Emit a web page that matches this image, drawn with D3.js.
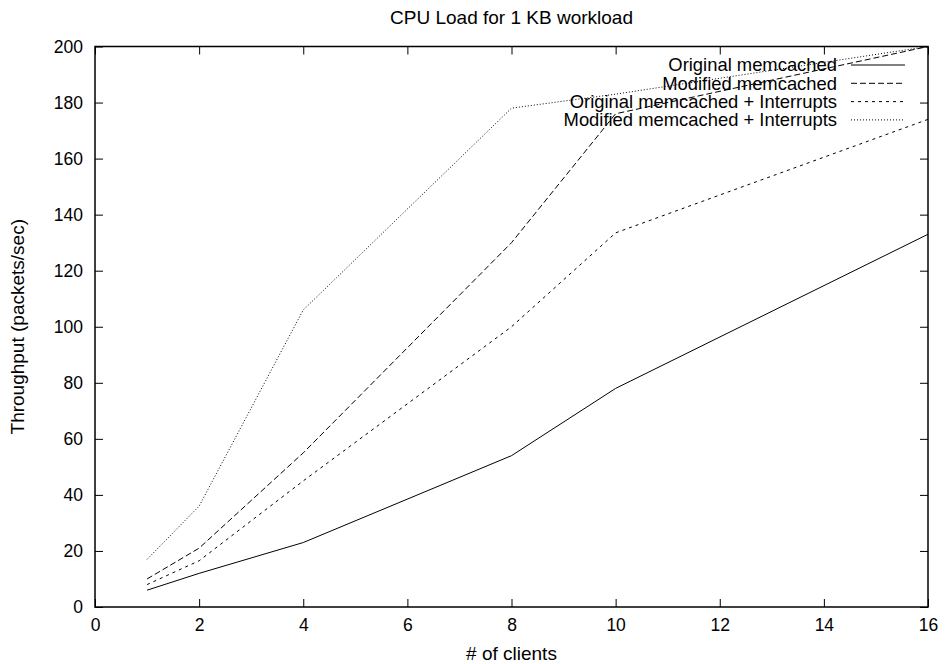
<!DOCTYPE html>
<html>
<head>
<meta charset="utf-8">
<script src="https://cdn.jsdelivr.net/npm/d3@7"></script>
<style>
  body { margin: 0; background: #fff; }
  text { font-family: "Liberation Sans", Arial, sans-serif; fill: #000; }
</style>
</head>
<body>
<svg id="chart" width="945" height="664"></svg>
<script>
// data
var clients = [1, 2, 4, 8, 10, 16];
var origMemcached = [6, 12, 23, 54, 78, 133];
var modMemcached = [10, 21, 55, 130, 176, 200];
var origInterrupts = [8, 16.5, 45, 100, 133.5, 174];
var modInterrupts = [17, 36, 106, 178, 183, 200];
var seriesNames = ["Original memcached", "Modified memcached",
    "Original memcached + Interrupts", "Modified memcached + Interrupts"];
var xTicks = [0, 2, 4, 6, 8, 10, 12, 14, 16];
var yTicks = [0, 20, 40, 60, 80, 100, 120, 140, 160, 180, 200];

var dashes = [null, "6,3", "3,4", "1,2"];
var allSeries = [origMemcached, modMemcached, origInterrupts, modInterrupts];

var margin = {left: 95, top: 46.5, right: 17, bottom: 57};
var width = 945 - margin.left - margin.right;
var height = 664 - margin.top - margin.bottom;

var svg = d3.select("#chart");
var g = svg.append("g").attr("transform", "translate(" + margin.left + "," + margin.top + ")");

var x = d3.scaleLinear().domain([0, 16]).range([0, width]);
var y = d3.scaleLinear().domain([0, 200]).range([height, 0]);

function styleAxis(sel) {
    sel.select(".domain").remove();
    sel.selectAll("line").attr("stroke", "#000").attr("stroke-width", 1);
    sel.selectAll("text").style("font-size", "17.5px").attr("fill", "#000");
}

g.append("g")
    .attr("transform", "translate(0," + height + ")")
    .call(d3.axisBottom(x).tickValues(xTicks).tickSize(-8).tickPadding(12))
    .call(styleAxis);
g.append("g")
    .call(d3.axisTop(x).tickValues(xTicks).tickSize(-8).tickFormat(""))
    .call(styleAxis);
g.append("g")
    .call(d3.axisLeft(y).tickValues(yTicks).tickSize(-8).tickPadding(12))
    .call(styleAxis);
g.append("g")
    .attr("transform", "translate(" + width + ",0)")
    .call(d3.axisRight(y).tickValues(yTicks).tickSize(-8).tickFormat(""))
    .call(styleAxis);

g.append("rect")
    .attr("width", width).attr("height", height)
    .attr("fill", "none").attr("stroke", "#000").attr("stroke-width", 1.5);

var line = d3.line()
    .x(function(d, i) { return x(clients[i]); })
    .y(function(d) { return y(d); });

g.selectAll(".series")
    .data(allSeries)
    .enter().append("path")
    .attr("class", "series")
    .attr("d", line)
    .attr("fill", "none")
    .attr("stroke", "#000")
    .attr("stroke-width", 1)
    .attr("stroke-dasharray", function(d, i) { return dashes[i]; });

// legend (top right, text right-aligned next to sample lines)
var legend = g.selectAll(".legend")
    .data(seriesNames)
    .enter().append("g")
    .attr("class", "legend")
    .attr("transform", function(d, i) { return "translate(" + (width - 81) + "," + (18.5 + i * 18.3) + ")"; });
legend.append("text")
    .attr("x", -10)
    .attr("dy", "0.35em")
    .attr("text-anchor", "end")
    .style("font-size", "18.4px")
    .text(function(d) { return d; });
legend.append("line")
    .attr("x1", 4).attr("x2", 58)
    .attr("stroke", "#000")
    .attr("stroke-width", 1)
    .attr("stroke-dasharray", function(d, i) { return dashes[i]; });

svg.append("text")
    .attr("x", margin.left + width / 2)
    .attr("y", 24)
    .attr("text-anchor", "middle")
    .style("font-size", "19px")
    .text("CPU Load for 1 KB workload");

svg.append("text")
    .attr("x", margin.left + width / 2)
    .attr("y", 660)
    .attr("text-anchor", "middle")
    .style("font-size", "19px")
    .text("# of clients");

svg.append("text")
    .attr("transform", "translate(24," + (margin.top + height / 2) + ") rotate(-90)")
    .attr("text-anchor", "middle")
    .style("font-size", "19px")
    .text("Throughput (packets/sec)");
</script>
</body>
</html>
